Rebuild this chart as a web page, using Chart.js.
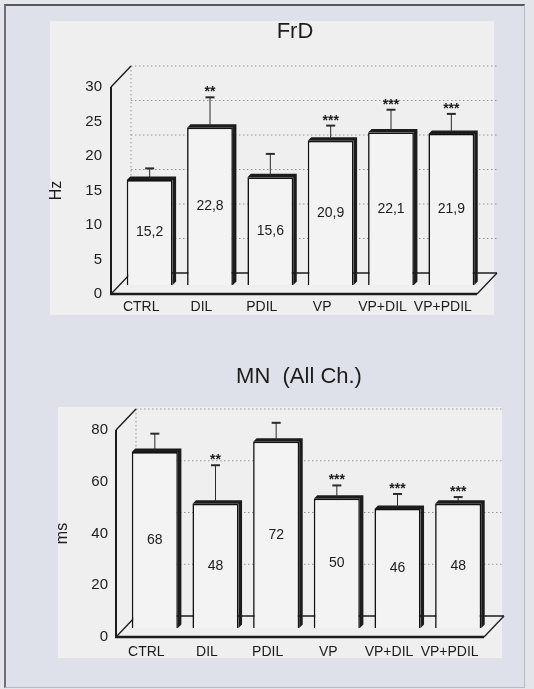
<!DOCTYPE html>
<html>
<head>
<meta charset="utf-8">
<script src="https://cdn.jsdelivr.net/npm/chart.js@4/dist/chart.umd.min.js"></script>
<style>
  html, body { margin: 0; padding: 0; width: 534px; height: 689px; overflow: hidden; background: #e3e5eb; }
  #frame { position: absolute; left: 4px; top: 4px; width: 518px; height: 681px; background: #dee1e9;
           border-top: 2px solid #58585c; border-left: 2px solid #707076; border-right: 1px solid #b6bac4; border-bottom: 1px solid #b6bac4; }
  canvas { position: absolute; left: 0; }
  #c1 { top: 0; }
  #c2 { top: 340px; }
</style>
</head>
<body>
<div id="frame"></div>
<canvas id="c1" width="534" height="330"></canvas>
<canvas id="c2" width="534" height="349"></canvas>
<script>
// ---- data ----
const categories = ['CTRL', 'DIL', 'PDIL', 'VP', 'VP+DIL', 'VP+PDIL'];

const frdValues = [15.2, 22.8, 15.6, 20.9, 22.1, 21.9];
const frdErrors = [1.7, 4.4, 3.4, 2.2, 3.3, 2.9];
const frdMarks  = ['', '**', '', '***', '***', '***'];
const frdTicks  = [0, 5, 10, 15, 20, 25, 30];

const mnValues = [68, 48, 72, 50, 46, 48];
const mnErrors = [7.1, 14.9, 7.3, 5.1, 5.8, 2.6];
const mnMarks  = ['', '**', '', '***', '***', '***'];
const mnTicks  = [0, 20, 40, 60, 80];

// ---- style / layout ----
const FONT = "'Liberation Sans', Arial, sans-serif";
const INK = '#1c1c1c';
const PANEL = '#efefef';
const DEPTH = { barDx: 8.5, barDy: -9, backDx: 20, backDy: -21, face: 3.5, floorExtra: 4 };

function line(ctx, x1, y1, x2, y2) { ctx.beginPath(); ctx.moveTo(x1, y1); ctx.lineTo(x2, y2); ctx.stroke(); }

function depthPlugin(s) {
  return {
    id: 'depth_' + s.canvas,
    beforeDraw(chart) {
      const ctx = chart.ctx;
      ctx.save();
      ctx.fillStyle = PANEL;
      ctx.fillRect(s.panel[0], s.panel[1], s.panel[2], s.panel[3]);
      ctx.restore();
    },
    beforeDatasetsDraw(chart) {
      const ctx = chart.ctx, a = chart.chartArea, ys = chart.scales.y;
      const y0 = ys.getPixelForValue(s.ticks[0]);
      const yTop = ys.getPixelForValue(s.ticks[s.ticks.length - 1]);
      const fr = a.right + DEPTH.floorExtra;
      const bx = DEPTH.backDx, by = DEPTH.backDy;
      ctx.save();
      // back wall gridlines (dotted)
      ctx.strokeStyle = '#949494';
      ctx.lineWidth = 1;
      ctx.setLineDash([1.5, 2.5]);
      s.ticks.forEach(v => {
        if (v === s.ticks[0]) return;
        const py = ys.getPixelForValue(v) + by;
        line(ctx, a.left + bx, py, fr + bx, py);
      });
      line(ctx, a.left + bx, yTop + by, a.left + bx, y0 + by);
      ctx.setLineDash([]);
      // floor
      ctx.fillStyle = PANEL;
      ctx.beginPath();
      ctx.moveTo(a.left, y0); ctx.lineTo(fr, y0); ctx.lineTo(fr + bx, y0 + by); ctx.lineTo(a.left + bx, y0 + by);
      ctx.closePath();
      ctx.fill();
      ctx.strokeStyle = INK;
      ctx.lineWidth = 1.3;
      line(ctx, a.left, y0, a.left + bx, y0 + by);
      line(ctx, a.left + bx, y0 + by, fr + bx, y0 + by);
      line(ctx, fr + bx, y0 + by, fr, y0);
      ctx.lineWidth = 2.4;
      line(ctx, a.left - 1, y0, fr, y0);
      // front value axis + top edge of side wall
      ctx.lineWidth = 2;
      line(ctx, a.left, y0, a.left, yTop);
      ctx.lineWidth = 1.4;
      line(ctx, a.left, yTop, a.left + bx, yTop + by);
      ctx.restore();
      // bars sit in the middle of the depth
      ctx.save();
      ctx.translate(DEPTH.barDx, DEPTH.barDy);
    },
    afterDatasetsDraw(chart) {
      const ctx = chart.ctx, ys = chart.scales.y, F = DEPTH.face;
      const meta = chart.getDatasetMeta(0);
      meta.data.forEach((bar, i) => {
        const p = bar.getProps(['x', 'y', 'base', 'width'], true);
        const l = p.x - p.width / 2, r = p.x + p.width / 2;
        // dark top + right faces
        ctx.fillStyle = INK;
        ctx.beginPath();
        ctx.moveTo(l, p.y); ctx.lineTo(l + F, p.y - F); ctx.lineTo(r + F, p.y - F);
        ctx.lineTo(r + F, p.base - F); ctx.lineTo(r, p.base); ctx.lineTo(r, p.y);
        ctx.closePath();
        ctx.fill();
        // error bar
        const ye = ys.getPixelForValue(s.values[i] + s.errors[i]);
        ctx.strokeStyle = '#2a2a2a';
        ctx.lineWidth = 1;
        line(ctx, p.x, p.y - F / 2, p.x, ye);
        ctx.lineWidth = 2;
        line(ctx, p.x - 4.5, ye, p.x + 4.5, ye);
        // significance marks
        ctx.fillStyle = INK;
        ctx.textAlign = 'center';
        if (s.marks[i]) {
          ctx.font = 'bold 14px ' + FONT;
          ctx.textBaseline = 'alphabetic';
          ctx.fillText(s.marks[i], p.x, ye - 1);
        }
        // value label
        ctx.font = '14px ' + FONT;
        ctx.textBaseline = 'middle';
        const txt = s.decimals ? s.values[i].toFixed(s.decimals).replace('.', ',') : String(s.values[i]);
        ctx.fillText(txt, p.x, (p.y + p.base) / 2);
      });
      ctx.restore();
    },
    afterDraw(chart) {
      const ctx = chart.ctx;
      ctx.save();
      ctx.fillStyle = INK;
      ctx.font = '22px ' + FONT;
      ctx.textAlign = 'center';
      ctx.textBaseline = 'middle';
      ctx.fillText(s.title, s.titleX, s.titleY);
      ctx.restore();
    }
  };
}

function makeChart(s) {
  return new Chart(document.getElementById(s.canvas), {
    type: 'bar',
    data: {
      labels: categories,
      datasets: [{
        data: s.values,
        backgroundColor: '#f3f3f3',
        borderColor: '#111',
        borderWidth: 1.6,
        barPercentage: 0.76,
        categoryPercentage: 1,
        clip: false
      }]
    },
    options: {
      responsive: false,
      animation: false,
      layout: { padding: s.pad },
      plugins: { legend: { display: false }, tooltip: { enabled: false }, title: { display: false } },
      scales: {
        x: {
          afterFit: sc => { sc.height = s.xHeight; },
          grid: { display: false, drawTicks: false },
          border: { display: false },
          ticks: { padding: s.xPad, autoSkip: false, maxRotation: 0, minRotation: 0,
                   font: { family: FONT, size: 14 }, color: INK }
        },
        y: {
          min: s.ticks[0],
          max: s.ticks[s.ticks.length - 1],
          afterBuildTicks: sc => { sc.ticks = s.ticks.map(v => ({ value: v })); },
          afterFit: sc => { sc.width = s.yWidth; },
          grid: { display: false, drawTicks: false },
          border: { display: false },
          ticks: { padding: s.yTickPad, font: { family: FONT, size: 15 }, color: INK },
          title: { display: true, text: s.yTitle, font: { family: FONT, size: 16 }, color: INK,
                   padding: { top: s.yTitlePad, bottom: 0 } }
        }
      }
    },
    plugins: [depthPlugin(s)]
  });
}

makeChart({
  canvas: 'c1', title: 'FrD', titleX: 295, titleY: 32, yTitle: 'Hz',
  values: frdValues, errors: frdErrors, marks: frdMarks, ticks: frdTicks, decimals: 1,
  panel: [50, 21, 444, 294],
  pad: { left: 40, top: 87, right: 61, bottom: 0 },
  yWidth: 71, xHeight: 36, xPad: 5, yTickPad: 9, yTitlePad: 7
});

makeChart({
  canvas: 'c2', title: 'MN  (All Ch.)', titleX: 299, titleY: 37, yTitle: 'ms',
  values: mnValues, errors: mnErrors, marks: mnMarks, ticks: mnTicks, decimals: 0,
  panel: [58, 67, 444, 251],
  pad: { left: 45, top: 90, right: 54, bottom: 0 },
  yWidth: 71, xHeight: 52, xPad: 7, yTickPad: 8, yTitlePad: 8
});
</script>
</body>
</html>
